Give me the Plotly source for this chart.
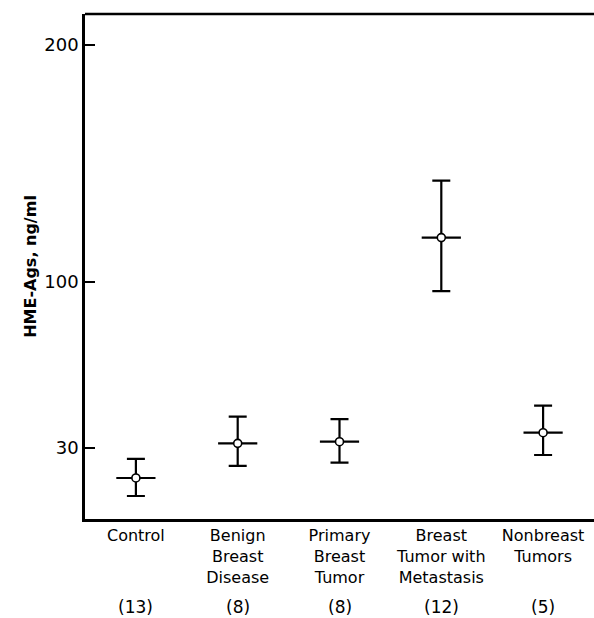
import plotly.graph_objects as go

categories = ["Control", "Benign<br>Breast<br>Disease", "Primary<br>Breast<br>Tumor",
              "Breast<br>Tumor with<br>Metastasis", "Nonbreast<br>Tumors"]
counts = ["(13)", "(8)", "(8)", "(12)", "(5)"]
means = [17.3, 31.9, 32.6, 118.7, 36.4]
err_plus = [8.1, 11.3, 9.5, 24.0, 11.4]
err_minus = [7.6, 9.5, 8.8, 22.6, 9.4]
y_ticks = [30, 100, 200]

xpos = list(range(1, len(categories) + 1))
FONT = "DejaVu Sans"

fig = go.Figure()
fig.add_trace(go.Scatter(
    x=xpos, y=means, mode="markers",
    marker=dict(symbol="line-ew", size=28, color="black",
                line=dict(color="black", width=2.2)),
    error_y=dict(type="data", symmetric=False, array=err_plus, arrayminus=err_minus,
                 color="black", thickness=2.2, width=9),
    showlegend=False, hoverinfo="skip"))
fig.add_trace(go.Scatter(
    x=xpos, y=means, mode="markers",
    marker=dict(symbol="circle", size=8, color="white",
                line=dict(color="black", width=1.6)),
    showlegend=False))

for xv, c in zip(xpos, counts):
    fig.add_annotation(x=xv, y=0, xref="x", yref="paper", text=c, showarrow=False,
                       yanchor="middle", yshift=-88,
                       font=dict(family=FONT, size=17, color="black"))

fig.add_shape(type="line", xref="paper", yref="paper", x0=0, x1=1, y0=1, y1=1,
              line=dict(color="black", width=2.5))

fig.update_layout(
    width=594, height=618,
    margin=dict(l=85, r=0, t=14, b=99),
    paper_bgcolor="white", plot_bgcolor="white",
    font=dict(family=FONT, size=16, color="black"),
    xaxis=dict(range=[0.5, 5.5], tickvals=xpos, ticktext=categories,
               showline=True, linecolor="black", linewidth=2.5,
               showgrid=False, zeroline=False, ticks="", tickangle=0,
               tickfont=dict(family=FONT, size=16, color="black")),
    yaxis=dict(range=[0, 213], tickvals=y_ticks, ticktext=[str(v) for v in y_ticks],
               showline=True, linecolor="black", linewidth=2.5,
               showgrid=False, zeroline=False, ticks="inside", ticklen=10,
               tickwidth=1.5, tickcolor="black",
               tickfont=dict(family=FONT, size=18, color="black"),
               title=dict(text="<b>HME-Ags, ng/ml</b>", standoff=4,
                          font=dict(family=FONT, size=16, color="black"))),
)

fig.write_html("out.html")
